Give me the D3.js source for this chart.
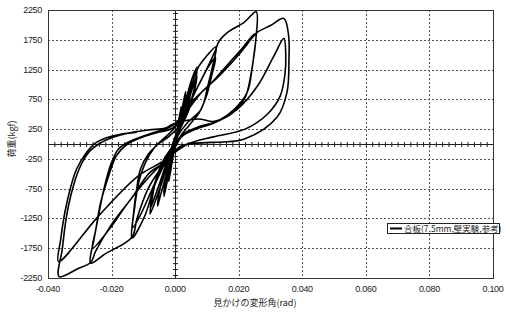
<!DOCTYPE html>
<html lang="ja">
<head>
    <meta charset="UTF-8">
    <title>荷重-変形角</title>
    <script src="https://d3js.org/d3.v7.min.js"></script>
    <style>
        body { margin: 0; background: #fff; }
        .tick-label { font-family: "Liberation Sans", Arial, sans-serif; font-size: 9px; fill: #222; letter-spacing: -0.3px; }
        .jp { font-family: "Noto Sans CJK JP", sans-serif; font-size: 9px; fill: #222; }
    </style>
</head>
<body>
<script type="text/javascript">
    var svgWidth = 510;
    var svgHeight = 316;
    var plot = {left: 48, right: 493, top: 10, bottom: 278};

    var xTicks = [-0.04, -0.02, 0, 0.02, 0.04, 0.06, 0.08, 0.1];
    var yTicks = [2250, 1750, 1250, 750, 250, -250, -750, -1250, -1750, -2250];
    var xTitle = "見かけの変形角(rad)";
    var yTitle = "荷重(kgf)";
    var seriesName = "合板(7.5mm,壁実験,参考)";

    // drift angle (rad) / load (kgf)
    var drift = [
        0, 0.0005, 0.0012, 0.0018, 0.0013, 0.0005, -0.0003, -0.0011, -0.0019, -0.0013, -0.0005, 0.0003,
        0.0011, 0.0019, 0.0012, 0.0004, -0.0004, -0.0012, -0.002, -0.0014, -0.0006,
        0.0002, 0.0012, 0.0022, 0.0033, 0.0028, 0.0018, 0.0008, -0.0002, -0.0012, -0.0024, -0.0035, -0.003, -0.002, -0.001,
        0.0, 0.0012, 0.0024, 0.0034, 0.0028, 0.0016, 0.0006, -0.0004, -0.0016, -0.0028, -0.0036, -0.003, -0.0018, -0.0006,
        0.001, 0.0028, 0.0045, 0.0052, 0.0046, 0.0034, 0.0018, 0.0004, -0.0012, -0.003, -0.0048, -0.0055, -0.0049, -0.0036, -0.002, -0.0006,
        0.001, 0.003, 0.005, 0.0069, 0.0064, 0.0052, 0.0034, 0.0012, -0.0005, -0.003, -0.0055, -0.0079, -0.0072, -0.006, -0.004, -0.0015, 0.0005,
        0.003, 0.0052, 0.0068, 0.006, 0.0042, 0.002, 0.0, -0.002, -0.0045, -0.0065, -0.0078, -0.007, -0.0055, -0.0035, -0.001,
        0.001, 0.004, 0.0069, 0.0095, 0.0129, 0.0118, 0.0103, 0.0082, 0.004, 0.001, -0.001, -0.003, -0.0065, -0.0095, -0.0136,
        -0.0131, -0.0121, -0.0109, -0.0084, -0.0053, -0.0022,
        0.0005, 0.003, 0.007, 0.0105, 0.0127, 0.0115, 0.0098, 0.0075, 0.0045, 0.0015, -0.001, -0.004, -0.008, -0.011, -0.0133,
        -0.0127, -0.0115, -0.0095, -0.0065, -0.003,
        -0.0005, 0.003, 0.008, 0.0125, 0.0139, 0.0165, 0.0217, 0.0255, 0.0254, 0.0243, 0.0227, 0.0187, 0.0134, 0.0072, 0.0025,
        0.0, -0.002, -0.005, -0.0085, -0.012, -0.0136, -0.022, -0.0266, -0.0255, -0.024, -0.0224, -0.0202, -0.0178, -0.0146,
        -0.01, -0.0053, -0.0016,
        0.002, 0.006, 0.011, 0.016, 0.021, 0.0252, 0.0248, 0.0238, 0.022, 0.018, 0.012, 0.006, 0.002, -0.001, -0.004, -0.009,
        -0.015, -0.021, -0.026, -0.025, -0.0235, -0.021, -0.0185, -0.015, -0.01, -0.005, -0.001,
        0.003, 0.008, 0.014, 0.02, 0.0245, 0.0258, 0.03, 0.0342, 0.0357, 0.0358, 0.0352, 0.0321, 0.0218, 0.0019, -0.003, -0.008,
        -0.0136, -0.02, -0.025, -0.0266, -0.0305, -0.0365, -0.0355, -0.0343, -0.0327, -0.0302, -0.0271, -0.024, -0.0202,
        -0.0146, -0.0084, -0.0031, -0.0006,
        0.0072, 0.0124, 0.0196, 0.0259, 0.031, 0.0342, 0.0348, 0.0345, 0.033, 0.029, 0.022, 0.012, 0.004, -0.0043, -0.0115,
        -0.024, -0.0367, -0.036, -0.0347, -0.033, -0.031, -0.028, -0.025, -0.02, -0.012
    ];
    var load = [
        0, 180, 420, 600, 380, 120, -100, -350, -600, -380, -130, 100,
        350, 620, 360, 110, -120, -380, -630, -400, -150,
        80, 330, 600, 880, 640, 380, 150, -60, -300, -600, -880, -640, -380, -150,
        60, 300, 560, 820, 580, 300, 100, -100, -350, -620, -830, -580, -320, -80,
        250, 600, 900, 1030, 780, 520, 300, 80, -200, -550, -900, -1040, -780, -500, -260, -60,
        250, 650, 1050, 1287, 1050, 760, 520, 280, 50, -450, -850, -1174, -900, -600, -330, -120, 150,
        500, 900, 1150, 880, 560, 300, 100, -200, -600, -900, -1080, -800, -500, -250, -50,
        200, 750, 1250, 1450, 1633, 1314, 978, 587, 364, 150, -100, -300, -700, -1200, -1582,
        -1174, -755, -419, -168, 0, 117,
        250, 500, 950, 1300, 1450, 1150, 800, 520, 320, 120, -120, -380, -850, -1200, -1400,
        -1050, -650, -330, -60, 120,
        250, 550, 1050, 1550, 1733, 1874, 2042, 2220, 1762, 1309, 872, 587, 386, 285, 168,
        0, -250, -450, -750, -1250, -1565, -1845, -2002, -1594, -1174, -755, -336, -84, 34,
        134, 218, 285,
        450, 750, 1000, 1300, 1600, 1850, 1500, 1150, 780, 520, 350, 240, 120, -150, -320, -600,
        -1000, -1450, -1750, -1450, -1000, -550, -200, 0, 120, 200, 260,
        500, 850, 1150, 1500, 1800, 1874, 1990, 2109, 1817, 1426, 872, 453, 84, -34, -300, -480,
        -900, -1350, -1800, -1990, -2090, -2226, -1762, -1258, -839, -419, -134, 0, 101,
        185, 235, 268, 336,
        420, 380, 587, 973, 1470, 1773, 1500, 1150, 800, 500, 250, 120, 0, -307, -532,
        -1203, -1975, -1600, -1150, -750, -420, -150, 20, 130, 200
    ];

    var xScale = d3.scaleLinear().domain([-0.04, 0.1]).range([plot.left, plot.right]);
    var yScale = d3.scaleLinear().domain([-2250, 2250]).range([plot.bottom, plot.top]);

    var svg = d3.select("body").append("svg")
        .attr("width", svgWidth)
        .attr("height", svgHeight);

    // dotted grid
    svg.append("g")
        .selectAll("line")
        .data(xTicks.filter(function (d) { return d !== 0 && d > -0.04 && d < 0.1; }))
        .enter()
        .append("line")
        .attr("x1", function (d) { return Math.round(xScale(d)) + 0.5; })
        .attr("x2", function (d) { return Math.round(xScale(d)) + 0.5; })
        .attr("y1", plot.top)
        .attr("y2", plot.bottom)
        .attr("stroke", "#555")
        .attr("stroke-dasharray", "2,2");
    svg.append("g")
        .selectAll("line")
        .data(yTicks.filter(function (d) { return Math.abs(d) < 2250; }))
        .enter()
        .append("line")
        .attr("x1", plot.left)
        .attr("x2", plot.right)
        .attr("y1", function (d) { return Math.round(yScale(d)) + 0.5; })
        .attr("y2", function (d) { return Math.round(yScale(d)) + 0.5; })
        .attr("stroke", "#555")
        .attr("stroke-dasharray", "2,2");

    // zero axes with minor ticks
    var x0 = Math.round(xScale(0)) + 0.5;
    var y0 = Math.round(yScale(0)) + 0.5;
    svg.append("line")
        .attr("x1", plot.left).attr("x2", plot.right)
        .attr("y1", y0).attr("y2", y0)
        .attr("stroke", "#222");
    svg.append("line")
        .attr("x1", x0).attr("x2", x0)
        .attr("y1", plot.top).attr("y2", plot.bottom)
        .attr("stroke", "#222");

    var xMinor = d3.axisBottom(xScale).ticks(56).tickSize(5).tickFormat("");
    svg.append("g")
        .attr("transform", "translate(0," + (y0 - 2.5) + ")")
        .call(xMinor)
        .call(function (g) { g.select(".domain").remove(); })
        .selectAll("line").attr("stroke", "#222");
    var yMinor = d3.axisLeft(yScale).ticks(45).tickSize(5).tickFormat("");
    svg.append("g")
        .attr("transform", "translate(" + (x0 + 2.5) + ",0)")
        .call(yMinor)
        .call(function (g) { g.select(".domain").remove(); })
        .selectAll("line").attr("stroke", "#222");

    // frame
    svg.append("rect")
        .attr("x", plot.left + 0.5)
        .attr("y", plot.top + 0.5)
        .attr("width", plot.right - plot.left)
        .attr("height", plot.bottom - plot.top)
        .attr("fill", "none")
        .attr("stroke", "#333");

    // tick labels
    svg.append("g")
        .selectAll("text")
        .data(xTicks)
        .enter()
        .append("text")
        .attr("class", "tick-label")
        .attr("x", function (d) { return xScale(d); })
        .attr("y", 292)
        .attr("text-anchor", "middle")
        .text(function (d) { return d3.format(".3f")(d).replace("−", "-"); });
    svg.append("g")
        .selectAll("text")
        .data(yTicks)
        .enter()
        .append("text")
        .attr("class", "tick-label")
        .attr("x", 42)
        .attr("y", function (d) { return yScale(d) + 3; })
        .attr("text-anchor", "end")
        .text(function (d) { return d; });

    // titles
    svg.append("text")
        .attr("class", "jp")
        .attr("x", 255)
        .attr("y", 306)
        .attr("text-anchor", "middle")
        .text(xTitle);
    svg.append("text")
        .attr("class", "jp")
        .attr("transform", "translate(15,139) rotate(-90)")
        .attr("text-anchor", "middle")
        .text(yTitle);

    // hysteresis curve
    var pts = drift.map(function (d, i) { return [d, load[i]]; });
    var line = d3.line()
        .x(function (d) { return xScale(d[0]); })
        .y(function (d) { return yScale(d[1]); })
        .curve(d3.curveCatmullRom.alpha(0.5));
    svg.append("path")
        .datum(pts)
        .attr("d", line)
        .attr("fill", "none")
        .attr("stroke", "#000")
        .attr("stroke-width", 1.6)
        .attr("stroke-linejoin", "round");

    // legend
    var legend = svg.append("g").attr("transform", "translate(387,223)");
    legend.append("rect")
        .attr("x", 0.5).attr("y", 0.5)
        .attr("width", 112).attr("height", 10)
        .attr("fill", "#fff")
        .attr("stroke", "#222");
    legend.append("line")
        .attr("x1", 3).attr("x2", 15)
        .attr("y1", 5.5).attr("y2", 5.5)
        .attr("stroke", "#000")
        .attr("stroke-width", 2);
    legend.append("text")
        .attr("class", "jp")
        .attr("x", 17)
        .attr("y", 9)
        .style("font-size", "8.5px")
        .text(seriesName);
</script>
</body>
</html>
